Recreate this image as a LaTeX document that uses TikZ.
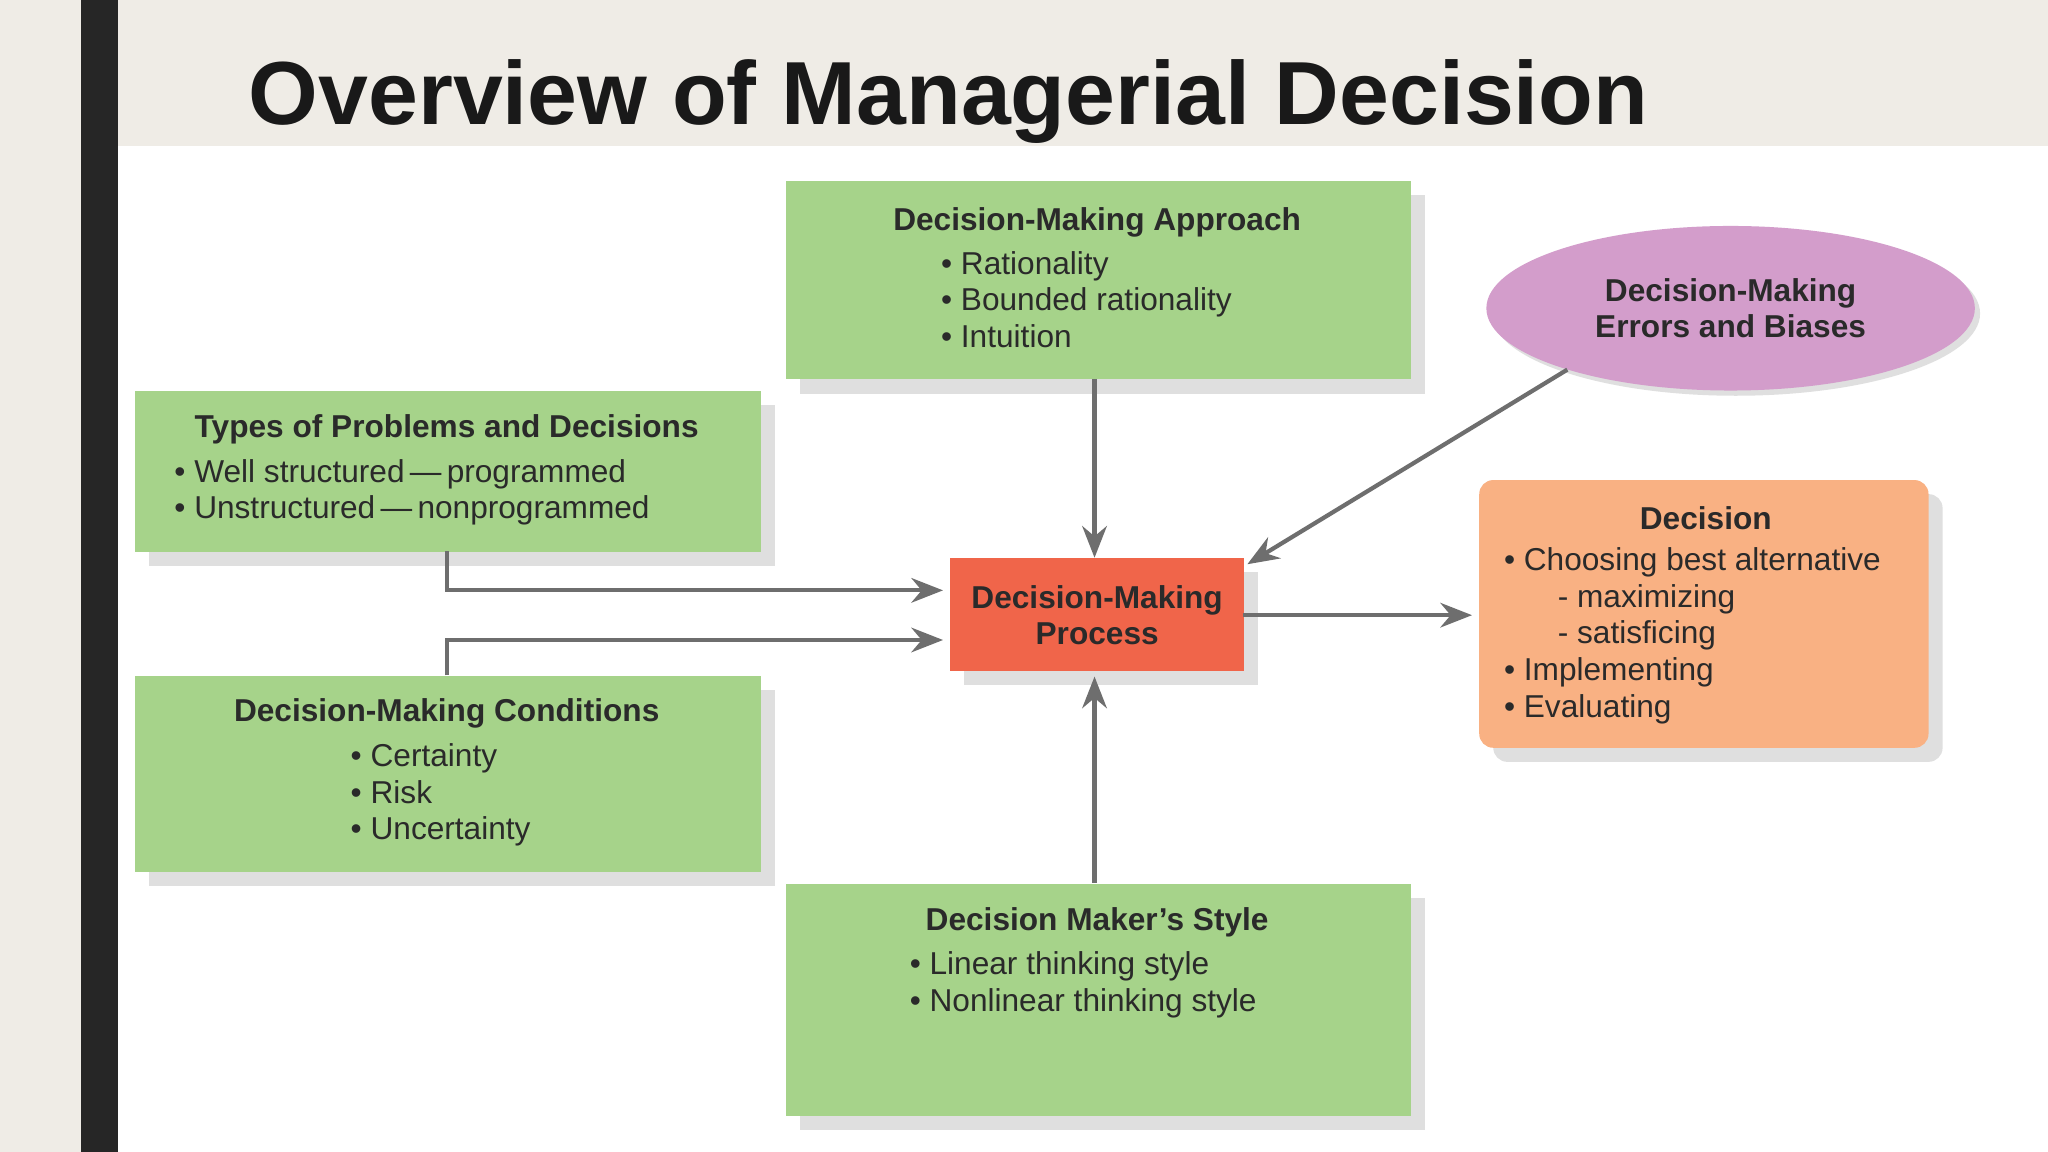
\documentclass[tikz,border=0pt]{standalone}
\usepackage{fontspec}
\setmainfont{Liberation Sans}
\usetikzlibrary{arrows.meta,shadows,shapes.geometric}
\definecolor{bg}{HTML}{EFECE6}
\definecolor{grn}{HTML}{A6D38A}
\definecolor{pnk}{HTML}{D39DCB}
\definecolor{org}{HTML}{F9B183}
\definecolor{rd}{HTML}{F0654A}
\definecolor{arr}{HTML}{6E6E6E}
\definecolor{txt}{HTML}{2A2A2A}
\begin{document}
\begin{tikzpicture}[x=0.01306cm,y=-0.01306cm,
  box/.style={draw=none,anchor=north west,inner sep=0,drop shadow={shadow xshift=4pt,shadow yshift=-4pt,opacity=0.25,fill=gray}},
  hd/.style={font=\fontsize{9}{10.4}\selectfont\bfseries,text=txt},
  it/.style={font=\fontsize{9}{10.4}\selectfont,text=txt,align=left,anchor=north west,inner sep=0},
  con/.style={draw=arr,line width=1.2pt,-{Stealth[length=9pt,width=7pt]}}]
\useasboundingbox (0,0) rectangle (1568,882);
\fill[bg] (0,0) rectangle (1568,882);
\fill[white] (90,112) rectangle (1568,882);
\fill[black!85] (62,0) rectangle (90,882);
\node[anchor=base west,inner sep=0,font=\fontsize{25.5}{30}\selectfont\bfseries,text=black!90] (title) at (190,95) {Overview of Managerial Decision};
% boxes
\node[box,fill=grn,minimum width=479*0.01306cm,minimum height=152*0.01306cm] (appr) at (601,138) {};
\node[box,fill=grn,minimum width=479*0.01306cm,minimum height=123*0.01306cm] (types) at (103,299) {};
\node[box,fill=grn,minimum width=479*0.01306cm,minimum height=150*0.01306cm] (cond) at (103,517) {};
\node[box,fill=grn,minimum width=479*0.01306cm,minimum height=178*0.01306cm] (style) at (601,676) {};
\node[box,fill=org,rounded corners=4pt,minimum width=344*0.01306cm,minimum height=205*0.01306cm] (dec) at (1132,367) {};
\node[box,fill=rd,minimum width=225*0.01306cm,minimum height=86*0.01306cm] (proc) at (727,427) {};
\fill[gray,opacity=0.25] (1329,240) ellipse [x radius=187,y radius=63];
\node[fill=pnk,draw=none,ellipse,inner sep=0,minimum width=374*0.01306cm,minimum height=126*0.01306cm] (err) at (1325,236) {};
% texts
\node[hd] (t1) at (840,170) {Decision-Making Approach};
\node[it] (i1) at (720,192) {• Rationality\\• Bounded rationality\\• Intuition};
\node[hd] (t2) at (342,329) {Types of Problems and Decisions};
\node[it] (i2) at (133,351) {• Well structured\,—\,programmed\\• Unstructured\,—\,nonprogrammed};
\node[hd] (t3) at (342,546) {Decision-Making Conditions};
\node[it] (i3) at (268,569) {• Certainty\\• Risk\\• Uncertainty};
\node[hd] (t4) at (840,706) {Decision Maker’s Style};
\node[it] (i4) at (696,728) {• Linear thinking style\\• Nonlinear thinking style};
\node[hd] (t5) at (1306,397) {Decision};
\node[it] (i5) at (1151,419) {• Choosing best alternative\\\hspace{1.7em}- maximizing\\\hspace{1.7em}- satisficing\\• Implementing\\• Evaluating};
\node[hd,align=center,text=txt] (t6) at (1325,236) {Decision-Making\\Errors and Biases};
\node[hd,align=center,text=txt] (t7) at (840,471) {Decision-Making\\Process};
% connectors
\coordinate (p1) at (838,290);\coordinate (q1) at (838,427);
\draw[con] (p1) -- (q1);
\coordinate (p2) at (1200,283);\coordinate (q2) at (955,432);
\draw[con] (p2) -- (q2);
\coordinate (p3) at (342,422);\coordinate (q3) at (722,452);
\draw[con] (p3) |- (q3);
\coordinate (p4) at (342,517);\coordinate (q4) at (722,490);
\draw[con] (p4) |- (q4);
\coordinate (p5) at (838,676);\coordinate (q5) at (838,518);
\draw[con] (p5) -- (q5);
\coordinate (p6) at (952,471);\coordinate (q6) at (1127,471);
\draw[con] (p6) -- (q6);
\end{tikzpicture}
\end{document}
